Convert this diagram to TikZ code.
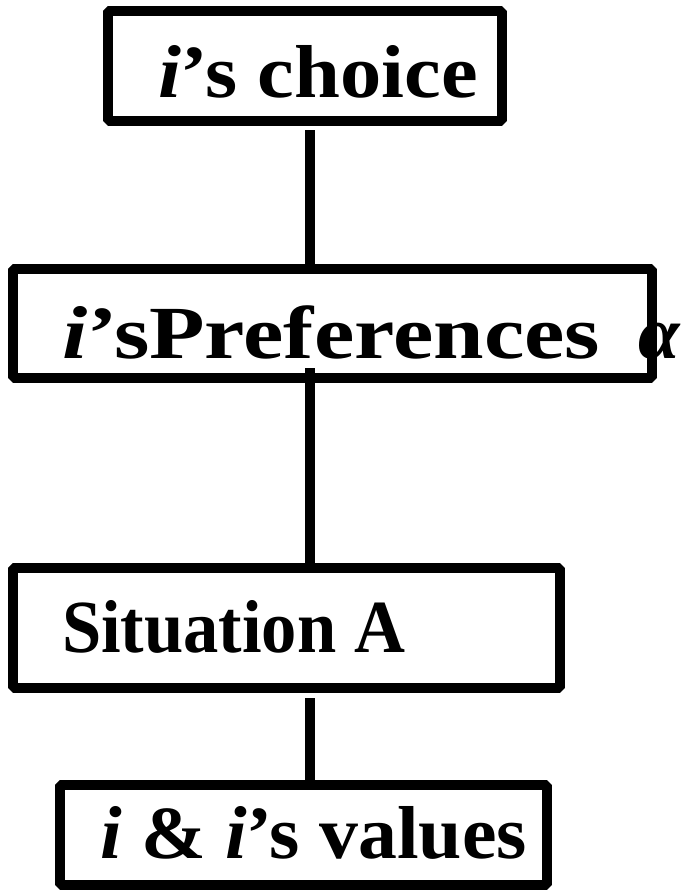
\documentclass[tikz,border=0pt]{standalone}
\usepackage{fontspec}
\setmainfont{Liberation Serif}
\usepackage{graphicx}
\tikzset{
  box/.style={draw, rectangle, line width=10pt, line join=bevel, outer sep=0pt, inner sep=0pt},
  conn/.style={line width=10pt, line cap=butt},
  lbl/.style={anchor=base west, inner sep=0pt, outer sep=0pt, font=\fontsize{75}{80}\selectfont\bfseries}
}
\begin{document}
\begin{tikzpicture}[x=1pt, y=-1pt]
\useasboundingbox (0,0) rectangle (686,891);
% boxes
\node[box, minimum width=394pt, minimum height=110pt] (b1) at (305,66) {};
\node[box, minimum width=639pt, minimum height=109pt] (b2) at (332.5,323.5) {};
\node[box, minimum width=547pt, minimum height=120pt] (b3) at (286.5,628) {};
\node[box, minimum width=487pt, minimum height=100pt] (b4) at (303.5,835) {};
% connector axis
\coordinate (ax) at (310,0);
\coordinate (s1) at (310,130);
\coordinate (s2) at (310,368);
\coordinate (s3) at (310,698);
\draw[conn] (s1) -- (b2.north -| ax);
\draw[conn] (s2) -- (b3.north -| ax);
\draw[conn] (s3) -- (b4.north -| ax);
% labels
\node[lbl] (t1) at (158,98) {\resizebox{320pt}{\height}{\textit{i}’s choice}};
\node[lbl] (t2) at (62,358) {\resizebox{538pt}{\height}{\textit{i}’sPreferences}};
\node[lbl] (t2a) at (638,358) {\textit{α}};
\node[lbl] (t3) at (62,652) {\resizebox{343pt}{\height}{Situation A}};
\node[lbl] (t4) at (100,858) {\resizebox{427pt}{\height}{\textit{i} \& \textit{i}’s values}};
\end{tikzpicture}
\end{document}
